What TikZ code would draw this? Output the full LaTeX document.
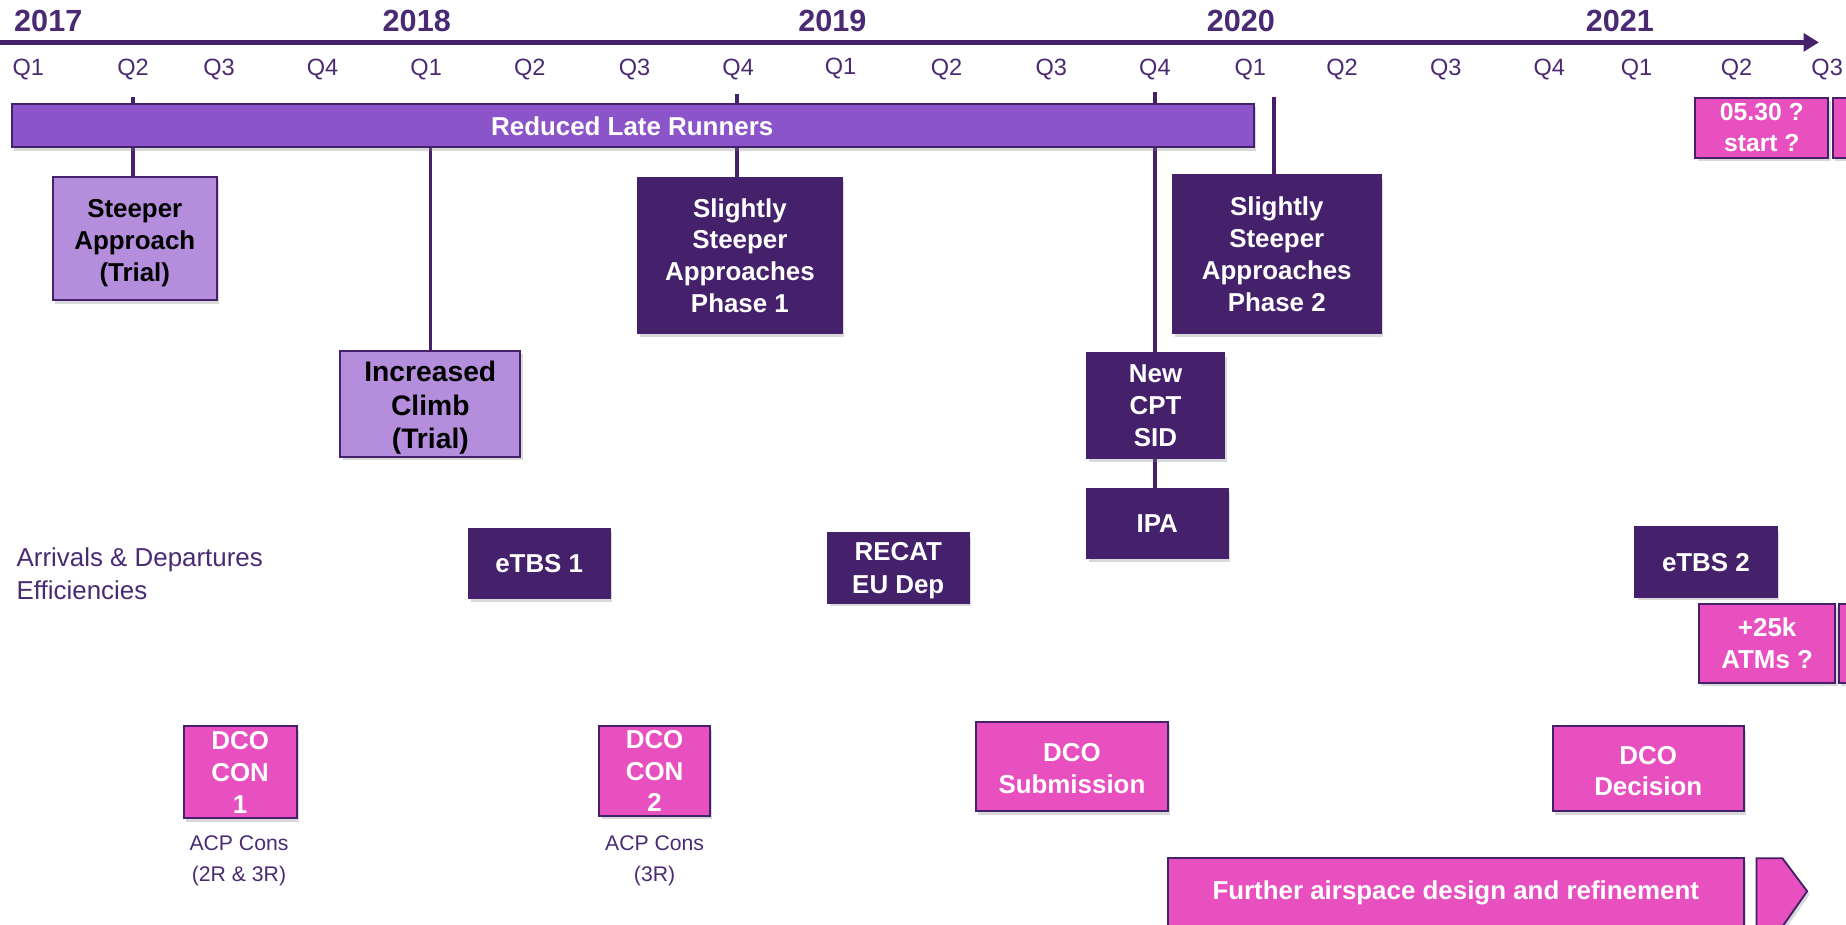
\documentclass[tikz,border=0pt]{standalone}
\usepackage{fontspec}
\setmainfont{Liberation Sans}
\usetikzlibrary{arrows.meta,shadows,backgrounds}
\definecolor{dpurple}{HTML}{46216B}
\definecolor{mpurple}{HTML}{8B55C9}
\definecolor{lpurple}{HTML}{B48EDC}
\definecolor{pinkc}{HTML}{E84FBF}
\definecolor{txtpurple}{HTML}{4A2A72}
\tikzset{
  boxbase/.style={draw=dpurple, line width=1.6pt, inner sep=0pt, align=center,
     drop shadow={opacity=0.3, shadow xshift=2pt, shadow yshift=-3pt}},
  darkbox/.style={boxbase, fill=dpurple, text=white, font=\fontsize{22}{27}\selectfont\bfseries},
  lightbox/.style={boxbase, fill=lpurple, text=black, font=\fontsize{22}{27}\selectfont\bfseries},
  pinkbox/.style={boxbase, fill=pinkc, text=white, font=\fontsize{22}{27}\selectfont\bfseries},
  boxtext/.style={align=center, inner sep=0pt, font=\fontsize{22}{27}\selectfont\bfseries},
  tick/.style={draw=dpurple, line width=3pt},
  qlab/.style={text=txtpurple, font=\fontsize{20}{24}\selectfont, anchor=center},
  ylab/.style={text=txtpurple, font=\fontsize{26}{30}\selectfont\bfseries, anchor=center},
  note/.style={text=txtpurple, align=center, font=\fontsize{18}{26}\selectfont},
}
\begin{document}
\begin{tikzpicture}[x=1pt,y=-1pt]
\useasboundingbox (0,0) rectangle (1568,785);
% axis
\coordinate (a0) at (0,36);
\coordinate (a1) at (1545,36);
\draw[dpurple, line width=4.5pt, -{Triangle[length=13pt,width=15pt]}] (a0) -- (a1);
% years
\node[ylab] (y17) at (41,18) {2017};
\node[ylab] (y18) at (354,18) {2018};
\node[ylab] (y19) at (707,18) {2019};
\node[ylab] (y20) at (1054,18) {2020};
\node[ylab] (y21) at (1376,18) {2021};
% quarters
\node[qlab] (q1) at (24,59) {Q1};
\node[qlab] (q2) at (113,59) {Q2};
\node[qlab] (q3) at (186,59) {Q3};
\node[qlab] (q4) at (274,59) {Q4};
\node[qlab] (q5) at (362,59) {Q1};
\node[qlab] (q6) at (450,59) {Q2};
\node[qlab] (q7) at (539,59) {Q3};
\node[qlab] (q8) at (627,59) {Q4};
\node[qlab] (q9) at (714,58) {Q1};
\node[qlab] (q10) at (804,59) {Q2};
\node[qlab] (q11) at (893,59) {Q3};
\node[qlab] (q12) at (981,59) {Q4};
\node[qlab] (q13) at (1062,59) {Q1};
\node[qlab] (q14) at (1140,59) {Q2};
\node[qlab] (q15) at (1228,59) {Q3};
\node[qlab] (q16) at (1316,59) {Q4};
\node[qlab] (q17) at (1390,59) {Q1};
\node[qlab] (q18) at (1475,59) {Q2};
\node[qlab] (q19) at (1552,59) {Q3};
% bar
\node[boxbase, fill=mpurple, minimum width=1055pt, minimum height=37pt] (bar) at (537.5,106.5) {};
\node[boxtext, text=white] (bartxt) at (537,107) {Reduced Late Runners};
% boxes
\node[lightbox, minimum width=139pt, minimum height=105pt] (steep) at (114.5,202.5) {};
\node[boxtext, text=black] (steeptxt) at (114.5,206.5) {Steeper\\Approach\\(Trial)};
\node[lightbox, minimum width=153pt, minimum height=90pt] (climb) at (365.5,343) {};
\node[boxtext, text=black, font=\fontsize{24}{28.5}\selectfont\bfseries] (climbtxt) at (365.5,346.5) {Increased\\Climb\\(Trial)};
\node[darkbox, minimum width=173pt, minimum height=132pt] (ph1) at (628.5,217) {Slightly\\Steeper\\Approaches\\Phase 1};
\node[darkbox, minimum width=177pt, minimum height=134pt] (ph2) at (1084.5,216) {Slightly\\Steeper\\Approaches\\Phase 2};
\node[darkbox, minimum width=117pt, minimum height=89pt] (cpt) at (981.5,344.5) {New\\CPT\\SID};
\node[darkbox, minimum width=120pt, minimum height=59pt] (ipa) at (983,444.5) {IPA};
\node[darkbox, minimum width=120pt, minimum height=59pt] (etbs1) at (458,478.5) {eTBS 1};
\node[darkbox, minimum width=120pt, minimum height=59pt] (recat) at (763,482.5) {};
\node[boxtext, text=white, font=\fontsize{22}{28}\selectfont\bfseries] (recattxt) at (763,485) {RECAT\\EU Dep};
\node[darkbox, minimum width=120pt, minimum height=59pt] (etbs2) at (1449,477.5) {eTBS 2};
\node[pinkbox, minimum width=116pt, minimum height=67pt] (atm) at (1501,546.5) {+25k\\ATMs ?};
\node[pinkbox, minimum width=40pt, minimum height=67pt] (atm2) at (1582,546.5) {};
\node[pinkbox, minimum width=113pt, minimum height=51pt, font=\fontsize{21}{26}\selectfont\bfseries] (start) at (1496.5,108.5) {05.30 ?\\start ?};
\node[pinkbox, minimum width=40pt, minimum height=51pt] (start2) at (1577,108.5) {};
\node[pinkbox, minimum width=96pt, minimum height=78pt] (con1) at (204,656) {DCO\\CON\\1};
\node[pinkbox, minimum width=94pt, minimum height=76pt] (con2) at (556,655) {DCO\\CON\\2};
\node[pinkbox, minimum width=163pt, minimum height=76pt] (sub) at (910.5,651) {};
\node[boxtext, text=white] (subtxt) at (910.5,653) {DCO\\Submission};
\node[pinkbox, minimum width=162pt, minimum height=72pt] (dec) at (1400,653) {};
\node[boxtext, text=white] (dectxt) at (1400,655) {DCO\\Decision};
\node[pinkbox, minimum width=489pt, minimum height=60pt] (further) at (1236.5,759) {};
\node[boxtext, text=white] (furthertxt) at (1236.5,758) {Further airspace design and refinement};
\draw[pinkbox] (1492,729) -- (1514,729) -- (1535,757) -- (1514,787) -- (1492,787) -- cycle;
% notes
\node[text=txtpurple, align=left, anchor=west, inner sep=0pt, font=\fontsize{22}{28}\selectfont] (arr) at (14,487) {Arrivals \& Departures\\Efficiencies};
\node[note] (acp1) at (203,731) {ACP Cons\\(2R \& 3R)};
\node[note] (acp2) at (556,731) {ACP Cons\\(3R)};
% ticks
\coordinate (c1) at (113,82);
\coordinate (c3) at (626,80);
\coordinate (c4) at (981,78);
\coordinate (c5) at (1082,82);
\begin{scope}[on background layer]
\draw[tick] (c1) -- (c1 |- steep.north);
\draw[tick] (bar.south -| climb.north) -- (climb.north);
\draw[tick] (c3) -- (c3 |- ph1.north);
\draw[tick] (c4) -- (c4 |- ipa.north);
\draw[tick] (c5) -- (c5 |- ph2.north);
\end{scope}
\end{tikzpicture}
\end{document}
